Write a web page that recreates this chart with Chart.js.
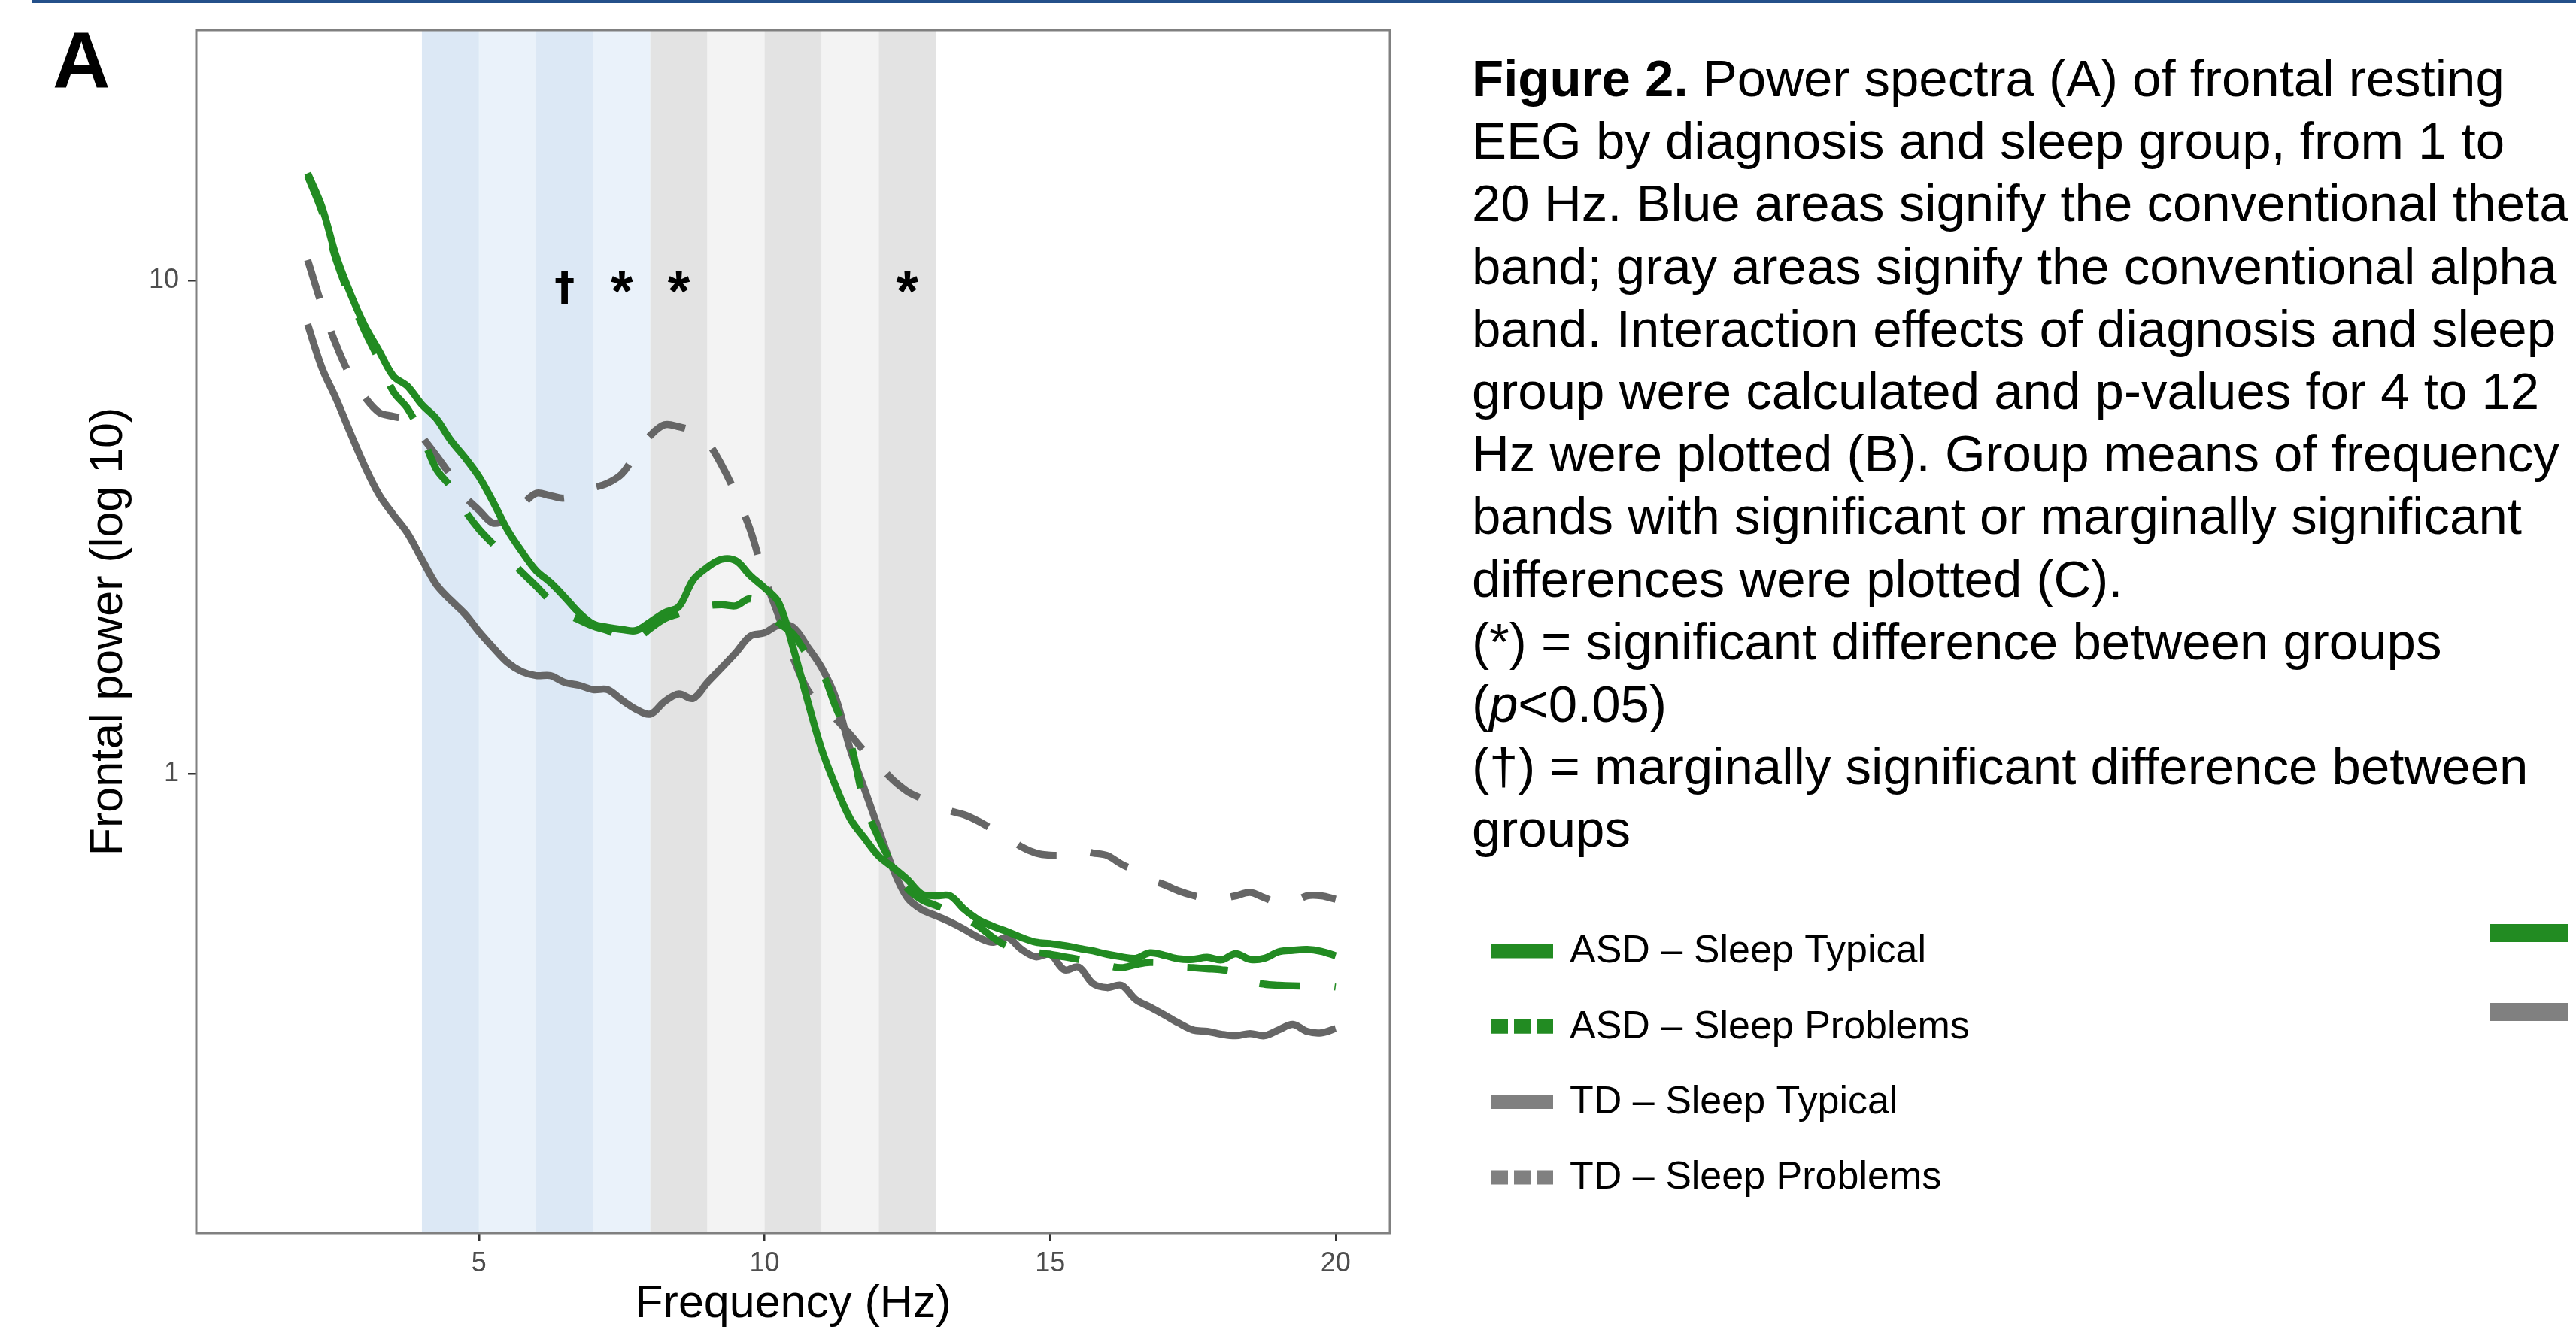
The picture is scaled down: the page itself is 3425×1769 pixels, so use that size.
<!DOCTYPE html>
<html>
<head>
<meta charset="utf-8">
<script src="https://cdn.jsdelivr.net/npm/chart.js@4.4.0/dist/chart.umd.min.js"></script>
<style>
  html, body { margin: 0; padding: 0; background: #fff; }
  body { width: 3425px; height: 1769px; position: relative; overflow: hidden;
         font-family: "Liberation Sans", Arial, Helvetica, sans-serif; }
  #wrap { position: absolute; left: 0; top: 0; width: 3425px; height: 1769px; }
  #topbar { position: absolute; left: 43px; top: 0; width: 3382px; height: 4px; background: #24508a; }
  #panel { position: absolute; left: 70px; top: 27px; font-size: 106px; font-weight: bold; line-height: 106px; }
  #caption { position: absolute; left: 1957px; top: 63px; font-size: 69px; line-height: 83.2px; color: #000; white-space: nowrap; }
  .cut { position: absolute; left: 3310px; width: 105px; height: 24px; }
</style>
</head>
<body>
<div id="topbar"></div>
<div id="wrap"><canvas id="spectra"></canvas></div>
<div id="panel">A</div>
<div id="caption">
  <div><b>Figure 2.</b> Power spectra (A) of frontal resting</div>
  <div>EEG by diagnosis and sleep group, from 1 to</div>
  <div>20 Hz. Blue areas signify the conventional theta</div>
  <div>band; gray areas signify the conventional alpha</div>
  <div>band. Interaction effects of diagnosis and sleep</div>
  <div>group were calculated and p-values for 4 to 12</div>
  <div>Hz were plotted (B). Group means of frequency</div>
  <div>bands with significant or marginally significant</div>
  <div>differences were plotted (C).</div>
  <div>(*) = significant difference between groups</div>
  <div>(<i>p</i>&lt;0.05)</div>
  <div>(†) = marginally significant difference between</div>
  <div>groups</div>
</div>
<div class="cut" style="top:1229px;background:#228B22"></div>
<div class="cut" style="top:1334px;background:#808080"></div>
<script>
// frequencies (Hz)
const freqs = [2, 2.25, 2.5, 2.75, 3, 3.25, 3.5, 3.75, 4, 4.25, 4.5, 4.75, 5, 5.25, 5.5, 5.75,
  6, 6.25, 6.5, 6.75, 7, 7.25, 7.5, 7.75, 8, 8.25, 8.5, 8.75, 9, 9.25, 9.5, 9.75,
  10, 10.25, 10.5, 10.75, 11, 11.25, 11.5, 11.75, 12, 12.25, 12.5, 12.75, 13, 13.25, 13.5, 13.75,
  14, 14.25, 14.5, 14.75, 15, 15.25, 15.5, 15.75, 16, 16.25, 16.5, 16.75, 17, 17.25, 17.5, 17.75,
  18, 18.25, 18.5, 18.75, 19, 19.25, 19.5, 19.75, 20];

// frontal power per group
const asdTypical = [16.5, 14.1, 11.2, 9.4, 8.1, 7.2, 6.4, 6.1, 5.6, 5.25,
  4.75, 4.38, 4.0, 3.55, 3.12, 2.82, 2.58, 2.44, 2.28, 2.12,
  2.01, 1.98, 1.96, 1.95, 2.03, 2.12, 2.18, 2.47, 2.62, 2.72,
  2.70, 2.52, 2.38, 2.22, 1.80, 1.41, 1.12, 0.94, 0.81, 0.74,
  0.68, 0.645, 0.61, 0.57, 0.565, 0.565, 0.53, 0.505, 0.49, 0.478,
  0.465, 0.455, 0.452, 0.448, 0.442, 0.437, 0.43, 0.425, 0.422, 0.433,
  0.428, 0.421, 0.42, 0.424, 0.419, 0.431, 0.42, 0.422, 0.435, 0.438,
  0.44, 0.436, 0.427];
const asdProblems = [16.3, 13.8, 11.0, 9.2, 7.9, 6.9, 5.95, 5.5, 4.85, 4.15,
  3.82, 3.42, 3.13, 2.92, 2.74, 2.56, 2.40, 2.24, 2.12, 2.05,
  1.99, 1.95, 1.89, 1.88, 1.97, 2.06, 2.11, 2.16, 2.19, 2.20,
  2.19, 2.26, 2.15, 2.02, 1.92, 1.74, 1.61, 1.36, 1.16, 0.87,
  0.74, 0.65, 0.585, 0.555, 0.54, 0.525, 0.51, 0.49, 0.465, 0.447,
  0.44, 0.434, 0.43, 0.425, 0.42, 0.415, 0.408, 0.404, 0.41, 0.414,
  0.412, 0.406, 0.404, 0.402, 0.40, 0.395, 0.38, 0.374, 0.372, 0.371,
  0.371, 0.372, 0.369];
const tdTypical = [8.15, 6.65, 5.75, 4.9, 4.2, 3.68, 3.35, 3.07, 2.72, 2.42,
  2.25, 2.11, 1.94, 1.80, 1.68, 1.61, 1.58, 1.58, 1.53, 1.51,
  1.48, 1.48, 1.41, 1.35, 1.32, 1.40, 1.45, 1.42, 1.53, 1.64,
  1.76, 1.90, 1.93, 2.0, 1.98, 1.81, 1.64, 1.42, 1.12, 0.93,
  0.77, 0.64, 0.56, 0.53, 0.515, 0.50, 0.483, 0.465, 0.455, 0.465,
  0.44, 0.425, 0.43, 0.40, 0.405, 0.375, 0.368, 0.372, 0.348, 0.336,
  0.324, 0.312, 0.302, 0.30, 0.296, 0.294, 0.297, 0.294, 0.302, 0.31,
  0.30, 0.298, 0.304];
const tdProblems = [11.0, 8.9, 7.4, 6.4, 5.8, 5.4, 5.3, 5.2, 4.82, 4.42,
  4.03, 3.65, 3.42, 3.22, 3.30, 3.50, 3.70, 3.66, 3.62, 3.74,
  3.80, 3.88, 4.05, 4.45, 4.85, 5.1, 5.05, 4.95, 4.70, 4.22,
  3.68, 3.12, 2.50, 2.08, 1.72, 1.48, 1.37, 1.29, 1.20, 1.11,
  1.04, 0.97, 0.92, 0.89, 0.865, 0.84, 0.825, 0.80, 0.77, 0.745,
  0.71, 0.69, 0.683, 0.684, 0.697, 0.69, 0.682, 0.655, 0.635, 0.61,
  0.595, 0.578, 0.566, 0.558, 0.558, 0.565, 0.574, 0.56, 0.547, 0.548,
  0.565, 0.565, 0.556];

const groupLabels = ["ASD \u2013 Sleep Typical", "ASD \u2013 Sleep Problems",
                     "TD \u2013 Sleep Typical", "TD \u2013 Sleep Problems"];

// frequency bands (start Hz, 1 Hz wide)
const thetaBands = [4, 5, 6, 7];
const alphaBands = [8, 9, 10, 11, 12];

// significance marks
const markFreqs = [6.5, 7.5, 8.5, 12.5];
const markSymbols = ["\u2020", "*", "*", "*"];
const markLevel = 10;

const xTicks = [5, 10, 15, 20];
const yTicks = [1, 10];

const FONT = '"Liberation Sans", Arial, Helvetica, sans-serif';
const GREEN = "#228B22";
const GRAY = "#666666";
const DASH = [54, 46];

function pts(vals) {
  return freqs.map((f, i) => ({ x: f, y: vals[i] }));
}

const bandsPlugin = {
  id: "bands",
  beforeDatasetsDraw(chart) {
    const { ctx, chartArea: a, scales: { x } } = chart;
    ctx.save();
    const draw = (starts, dark, light) => {
      starts.forEach((s, i) => {
        const x0 = x.getPixelForValue(s);
        const x1 = x.getPixelForValue(s + 1);
        ctx.fillStyle = i % 2 === 0 ? dark : light;
        ctx.fillRect(x0, a.top, x1 - x0, a.bottom - a.top);
      });
    };
    draw(thetaBands, "#dce8f5", "#eaf2fa");
    draw(alphaBands, "#e3e3e3", "#f3f3f3");
    ctx.restore();
  }
};

const marksPlugin = {
  id: "marks",
  afterDatasetsDraw(chart) {
    const { ctx, scales: { x, y } } = chart;
    const yPix = y.getPixelForValue(markLevel);
    ctx.save();
    ctx.fillStyle = "#000";
    ctx.textAlign = "center";
    ctx.textBaseline = "alphabetic";
    markFreqs.forEach((f, i) => {
      const sym = markSymbols[i];
      if (sym === "*") {
        ctx.font = "bold 76px " + FONT;
        ctx.fillText(sym, x.getPixelForValue(f), yPix + 40);
      } else {
        ctx.font = 'bold 54px "DejaVu Sans", ' + FONT;
        ctx.fillText(sym, x.getPixelForValue(f), yPix + 26);
      }
    });
    // panel border
    const a = chart.chartArea;
    ctx.strokeStyle = "#808080";
    ctx.lineWidth = 3;
    ctx.strokeRect(a.left, a.top, a.right - a.left, a.bottom - a.top);
    ctx.restore();
  }
};

const legendPlugin = {
  id: "sideLegend",
  afterDraw(chart) {
    const { ctx } = chart;
    ctx.save();
    chart.data.datasets.forEach((ds, i) => {
      const yc = 1265 + i * 100.3;
      ctx.strokeStyle = ds.keyColor;
      ctx.lineWidth = 19;
      ctx.lineCap = "butt";
      ctx.setLineDash(ds.borderDash && ds.borderDash.length ? [22, 8] : []);
      ctx.beginPath();
      ctx.moveTo(1983, yc);
      ctx.lineTo(2065, yc);
      ctx.stroke();
      ctx.setLineDash([]);
      ctx.fillStyle = "#000";
      ctx.font = "52px " + FONT;
      ctx.textAlign = "left";
      ctx.textBaseline = "middle";
      ctx.fillText(ds.label, 2087, yc + 1);
    });
    ctx.restore();
  }
};

new Chart(document.getElementById("spectra"), {
  type: "line",
  data: {
    datasets: [
      { label: groupLabels[0], data: pts(asdTypical), borderColor: GREEN, keyColor: GREEN, borderDash: [] },
      { label: groupLabels[1], data: pts(asdProblems), borderColor: GREEN, keyColor: GREEN, borderDash: DASH },
      { label: groupLabels[2], data: pts(tdTypical), borderColor: GRAY, keyColor: "#808080", borderDash: [] },
      { label: groupLabels[3], data: pts(tdProblems), borderColor: GRAY, keyColor: "#808080", borderDash: DASH }
    ]
  },
  options: {
    responsive: true,
    maintainAspectRatio: false,
    animation: false,
    devicePixelRatio: 1,
    layout: { padding: { left: 0, top: 40, right: 1577, bottom: 0 } },
    plugins: { legend: { display: false }, tooltip: { enabled: false } },
    elements: {
      point: { radius: 0 },
      line: { borderWidth: 9.5, tension: 0.35, borderCapStyle: "butt", fill: false }
    },
    scales: {
      x: {
        type: "linear",
        min: 0.05,
        max: 20.95,
        afterFit: s => { s.height = 129; },
        afterBuildTicks: s => { s.ticks = xTicks.map(v => ({ value: v })); },
        grid: { drawOnChartArea: false, tickLength: 11, color: "#333333", lineWidth: 2.5 },
        border: { display: false },
        ticks: { autoSkip: false, maxRotation: 0, padding: 8, color: "#4d4d4d",
                 font: { size: 36, family: FONT }, callback: v => String(v) },
        title: { display: true, text: "Frequency (Hz)", color: "#000",
                 font: { size: 61, family: FONT, lineHeight: 1.1 }, padding: { top: 0, bottom: 0 } }
      },
      y: {
        type: "logarithmic",
        min: 0.117,
        max: 32.2,
        afterFit: s => { s.width = 261; },
        afterBuildTicks: s => { s.ticks = yTicks.map(v => ({ value: v })); },
        grid: { drawOnChartArea: false, tickLength: 11, color: "#333333", lineWidth: 2.5 },
        border: { display: false },
        ticks: { autoSkip: false, padding: 12, color: "#4d4d4d",
                 font: { size: 36, family: FONT }, callback: v => String(v) },
        title: { display: true, text: "Frontal power (log 10)", color: "#000",
                 font: { size: 61, family: FONT, lineHeight: 1.1 }, padding: { top: 112, bottom: 0 } }
      }
    }
  },
  plugins: [bandsPlugin, marksPlugin, legendPlugin]
});
</script>
</body>
</html>
